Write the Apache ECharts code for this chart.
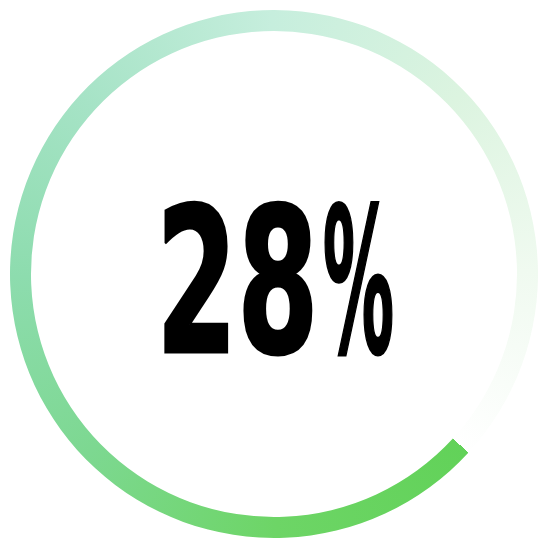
<!DOCTYPE html>
<html>
<head>
<meta charset="utf-8">
<title>28%</title>
<script src="https://cdn.jsdelivr.net/npm/echarts@6/dist/echarts.min.js"></script>
<style>
  html, body { margin: 0; padding: 0; background: #fff; }
  #chart { width: 550px; height: 550px; }
</style>
</head>
<body>
<div id="chart"></div>
<script>
// 数据
var progressValue = [28];
var ringValues = [100];
var ringNames = ['进度'];

// 圆环颜色（顺时针，从硬边开始）
var ringStops = [
  [0.00, '#62d259'],
  [0.13, '#6dd566'],
  [0.26, '#7dd891'],
  [0.38, '#8ddcae'],
  [0.50, '#a6e3c6'],
  [0.63, '#c6eedd'],
  [0.76, '#dcf4e0'],
  [0.88, '#f0faf0'],
  [1.00, '#ffffff']
];

var W = 550, H = 550;
var cx = 274, cy = 274;
var startDeg = 42.6; // 屏幕坐标，顺时针

// 锥形渐变贴图
function makeConic() {
  var c = document.createElement('canvas');
  c.width = W;
  c.height = H;
  var g = c.getContext('2d');
  var grad = g.createConicGradient(startDeg * Math.PI / 180, cx, cy);
  ringStops.forEach(function (s) { grad.addColorStop(s[0], s[1]); });
  g.fillStyle = grad;
  g.fillRect(0, 0, W, H);
  return c;
}

var fontFamily = "'Liberation Sans Narrow', 'DejaVu Sans Condensed', 'Liberation Sans', sans-serif";
var fontSize = 214;
var fontStr = 'bold ' + fontSize + 'px ' + fontFamily;

function measure(text) {
  var c = document.createElement('canvas').getContext('2d');
  c.font = fontStr;
  c.textBaseline = 'middle';
  c.textAlign = 'left';
  return c.measureText(text);
}

// 文字位置（墨迹框）
function makeText(text, left, right, top, bottom) {
  var m = measure(text);
  var inkW = m.actualBoundingBoxLeft + m.actualBoundingBoxRight;
  var inkH = m.actualBoundingBoxAscent + m.actualBoundingBoxDescent;
  var sx = (right - left) / inkW;
  var sy = (bottom - top) / inkH;
  var inkMid = (m.actualBoundingBoxDescent - m.actualBoundingBoxAscent) / 2;
  return {
    type: 'text',
    x: left + sx * m.actualBoundingBoxLeft,
    y: (top + bottom) / 2 - sy * inkMid,
    scaleX: sx,
    scaleY: sy,
    silent: true,
    z: 10,
    style: {
      text: text,
      x: 0,
      y: 0,
      font: fontStr,
      fill: '#000',
      stroke: '#000',
      lineWidth: 3,
      align: 'left',
      verticalAlign: 'middle'
    }
  };
}

var myChart = echarts.init(document.getElementById('chart'));

myChart.setOption({
  backgroundColor: '#fff',
  animation: false,
  graphic: [
    makeText(String(progressValue[0]), 165, 312, 202, 355),
    makeText('%', 325, 392, 202, 355)
  ],
  series: [{
    type: 'pie',
    center: [cx, cy],
    radius: [243, 264],
    startAngle: 360 - startDeg,
    silent: true,
    label: { show: false },
    labelLine: { show: false },
    itemStyle: {
      color: { image: makeConic(), repeat: 'no-repeat' },
      borderWidth: 0
    },
    data: ringValues.map(function (v, i) {
      return { value: v, name: ringNames[i] };
    })
  }]
});
</script>
</body>
</html>
